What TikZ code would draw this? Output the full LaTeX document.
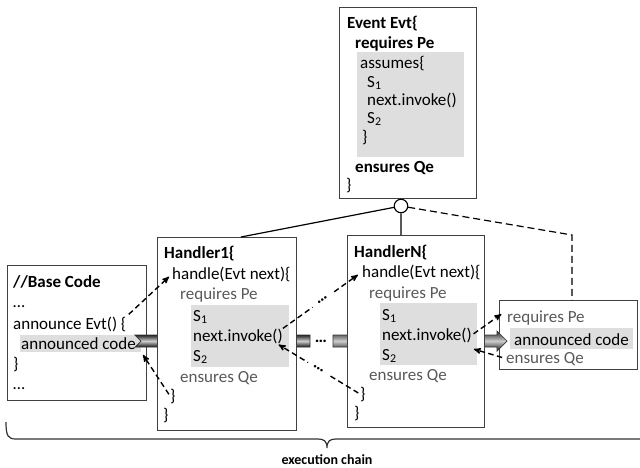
\documentclass[tikz,border=0pt]{standalone}
\usepackage{fontspec}
\setmainfont{Carlito}
\usetikzlibrary{arrows,positioning}

\newcommand\codesize{\fontsize{17}{20}\selectfont}

\begin{document}
\begin{tikzpicture}[x=1pt,y=-1pt,>=stealth',
        box/.style={draw=black!75,line width=0.9pt,fill=white,anchor=north west,inner sep=0pt},
        hl/.style={fill=black!13,anchor=north west,inner sep=0pt},
        txt/.style={anchor=base west,inner sep=0pt,font=\codesize},
        kw/.style={txt,font=\codesize\bfseries},
        dim/.style={txt,text=black!65},
        flow/.style={->,dash pattern=on 5.5pt off 3.5pt,line width=1.4pt},
        band/.style={draw=black!80,line width=0.7pt,top color=black!85,bottom color=black!90,middle color=black!20},
        dots/.style={sloped,fill=white,inner xsep=6pt,inner ysep=3pt,font=\codesize\bfseries},
        lbl/.style={inner sep=0pt,font=\fontsize{14}{16}\selectfont\bfseries}]

            \useasboundingbox (0,0) rectangle (640,467);

            \node[box,minimum width=139pt,minimum height=135pt] (base) at (7,265) {};

            \node[hl,minimum width=121pt,minimum height=17pt] (bhl) at (20,335) {};

            \node[kw] (bhead) at (13,287) {//Base Code};

            \node[txt] (bdots) at (13,307) {…};

            \node[txt] (bann) at (13,329) {announce Evt() \{};

            \node[txt] (bcode) at (21,349) {announced code};

            \node[txt] (bclose) at (13,369) {\}};

            \node[txt] (bdots2) at (13,389) {…};

            \node[box,minimum width=138pt,minimum height=69pt] (rb) at (499,300) {};

            \node[hl,minimum width=123pt,minimum height=21pt] (rbhl) at (510,328) {};

            \node[dim] (rbreq) at (507,322) {requires Pe};

            \node[txt] (rbcode) at (514,345) {announced code};

            \node[dim] (rbens) at (506,363) {ensures Qe};

            \path[band] (135,335) -- (141,341) -- (135,347) -- (310,347) -- (310,335) -- cycle;

            \path[band] (333,335) -- (497,335) -- (497,331) -- (507,341) -- (497,351) -- (497,347) -- (333,347) -- cycle;

            \node[txt,anchor=center,font=\codesize\bfseries] (mdots) at (321,341) {…};

            \node[box,minimum width=139pt,minimum height=193pt] (h1) at (157,237) {};

            \node[hl,minimum width=98pt,minimum height=62pt] (h1hl) at (191,305) {};

            \node[kw] (h1title) at (164,258) {Handler1\{};

            \node[txt] (h1handle) at (172,279) {handle(Evt next)\{};

            \node[dim] (h1req) at (180,299) {requires Pe};

            \node[txt] (h1s1) at (193,321) {S\textsubscript{1}};

            \node[txt] (h1inv) at (193,341) {next.invoke()};

            \node[txt] (h1s2) at (193,361) {S\textsubscript{2}};

            \node[dim] (h1ens) at (180,382) {ensures Qe};

            \node[txt] (h1end) at (170,401) {\}};

            \node[txt] (h1close) at (163,420) {\}};

            \node[box,minimum width=137pt,minimum height=192pt] (hn) at (347,235) {};

            \node[hl,minimum width=97pt,minimum height=62pt] (hnhl) at (380,303) {};

            \node[kw] (hntitle) at (354,257) {HandlerN\{};

            \node[txt] (hnhandle) at (362,277) {handle(Evt next)\{};

            \node[dim] (hnreq) at (369,298) {requires Pe};

            \node[txt] (hns1) at (382,320) {S\textsubscript{1}};

            \node[txt] (hninv) at (382,340) {next.invoke()};

            \node[txt] (hns2) at (382,360) {S\textsubscript{2}};

            \node[dim] (hnens) at (369,380) {ensures Qe};

            \node[txt] (hnend) at (360,399) {\}};

            \node[txt] (hnclose) at (354,418) {\}};

            \node[box,minimum width=137pt,minimum height=191pt] (ev) at (339,7) {};

            \node[hl,minimum width=107pt,minimum height=105pt] (evhl) at (357,52) {};

            \node[kw] (evtitle) at (347,28) {Event Evt\{};

            \node[kw] (evreq) at (355,48) {requires Pe};

            \node[txt] (evass) at (360,68) {assumes\{};

            \node[txt] (evs1) at (367,87) {S\textsubscript{1}};

            \node[txt] (evinv) at (367,105) {next.invoke()};

            \node[txt] (evs2) at (367,123) {S\textsubscript{2}};

            \node[txt] (evassend) at (362,142) {\}};

            \node[kw] (evens) at (355,172) {ensures Qe};

            \node[txt] (evclose) at (346,190) {\}};

            \node[circle,draw=black,line width=1.1pt,fill=white,minimum size=13.5pt,inner sep=0pt] (jp) at (401,206) {};

            \coordinate (bend) at (572,235);

            \draw[line width=1.2pt] (jp) -- ([xshift=14pt]h1.north)
                                    (jp) -- (jp |- hn.north);

            \draw[line width=1.2pt,dash pattern=on 7pt off 4pt] (jp) -- (bend) -- (bend |- rb.north);

            \path[flow] (bann.north east) edge [shorten <=3pt,shorten >=4pt] (h1handle.west)
                        (h1end.west) edge [shorten <=2pt,shorten >=3pt] (bhl.south east)
                        (h1inv.north east) edge [shorten >=5pt] node[dots] {…} (hnhandle.west)
                        (hnend.west) edge [shorten <=2pt,shorten >=2pt] node[dots] {…} ([xshift=-6pt]h1inv.south east)
                        (hninv.east) edge [shorten <=2pt,shorten >=7pt] (rbreq.north west)
                        (rbens.west) edge [shorten <=4pt,shorten >=2pt] ([yshift=-6pt]hninv.south east);

            \draw[line width=1.2pt,black!80] (6,422) .. controls (6,436) and (8,439) .. (16,439) -- (318,439)
                .. controls (324,439) and (327,441) .. (327,448)
                .. controls (327,441) and (330,439) .. (336,439) -- (640,439);

            \coordinate (tip) at (327,448);

            \node[lbl] (chain) [below=6pt of tip] {execution chain};

        \end{tikzpicture}
\end{document}
